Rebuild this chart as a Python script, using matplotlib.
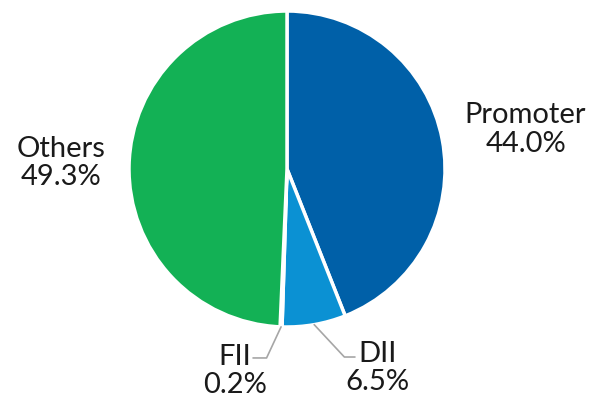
import numpy as np
import matplotlib
matplotlib.use("Agg")
import matplotlib.pyplot as plt

plt.rcParams['font.family'] = ['Lato', 'DejaVu Sans']

# shareholding pattern
categories = ['Promoter', 'DII', 'FII', 'Others']
shares = [44.0, 6.5, 0.2, 49.3]
colors = ['#0060A8', '#0B91D3', '#0B91D3', '#13B155']

# label placement (data units, pie radius = 1)
label_pos = {'Promoter': (1.51, 0.25), 'DII': (0.57, -1.26),
             'FII': (-0.33, -1.28), 'Others': (-1.43, 0.04)}
leader = {'DII': ((0.43, -1.19), 133), 'FII': ((-0.215, -1.196), 65)}

fig = plt.figure(figsize=(6, 4.05), dpi=100)
ax = fig.add_axes([0.215, 0.1926, 0.5267, 0.7802])

wedges, _ = ax.pie(shares, colors=colors, startangle=90, counterclock=False,
                   radius=1, wedgeprops=dict(edgecolor='white', linewidth=2.5))

for w, name, val in zip(wedges, categories, shares):
    x, y = label_pos[name]
    ax.text(x, y, f"{name}\n{val:.1f}%", ha='center', va='center',
            fontsize=21, color='#1a1a1a', linespacing=1.1)
    if name in leader:
        mid = np.deg2rad((w.theta1 + w.theta2) / 2)
        (lx, ly), ang = leader[name]
        ax.annotate('', xy=(np.cos(mid), np.sin(mid)), xytext=(lx, ly),
                    arrowprops=dict(arrowstyle='-', color='#A6A6A6', lw=1.2,
                                    shrinkA=0, shrinkB=0,
                                    connectionstyle=f'angle,angleA=0,angleB={ang},rad=0'))

ax.set_xlim(-1, 1)
ax.set_ylim(-1, 1)
ax.set_aspect('auto')
ax.axis('off')

fig.savefig('out.png', dpi=100)
